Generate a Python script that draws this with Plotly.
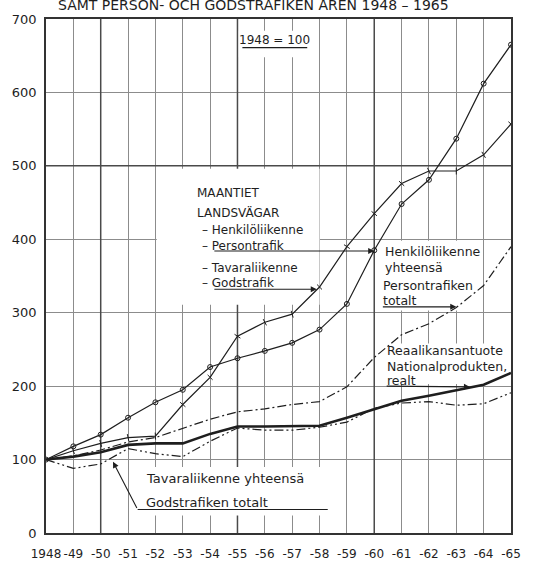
import plotly.graph_objects as go

# Index series, 1948 = 100
years = list(range(1948, 1966))
year_labels = ["1948"] + ["-%02d" % (y % 100) for y in years[1:]]

road_passenger = [100, 118, 134, 157, 178, 195, 226, 238, 248, 259, 277, 312, 385, 448, 481, 537, 612, 665]
road_goods = [100, 112, 122, 130, 132, 175, 212, 268, 287, 298, 335, 390, 435, 476, 493, 493, 515, 557]
passenger_total = [100, 105, 113, 124, 130, 142, 155, 165, 169, 175, 179, 199, 239, 270, 285, 307, 337, 390]
gnp_real = [100, 104, 110, 120, 122, 122, 135, 145, 145, 145, 146, 157, 169, 180, 187, 195, 202, 218]
goods_total = [100, 88, 94, 115, 108, 104, 125, 143, 140, 140, 144, 151, 170, 177, 179, 174, 176, 191]

y_ticks = [0, 100, 200, 300, 400, 500, 600, 700]

INK = "#1e1e1e"
GRID = "#8c8c8c"
FONT = "DejaVu Sans"

fig = go.Figure()

fig.add_trace(go.Scatter(
    x=years, y=road_passenger, mode="lines+markers",
    line=dict(color=INK, width=1.2),
    marker=dict(symbol="circle-open", size=5, color=INK, line=dict(width=1)),
))
fig.add_trace(go.Scatter(
    x=years, y=road_goods, mode="lines+markers",
    line=dict(color=INK, width=1.2),
    marker=dict(symbol="line-ew", size=5, color=INK, angleref="previous",
                line=dict(width=1, color=INK)),
))
fig.add_trace(go.Scatter(
    x=years, y=passenger_total, mode="lines",
    line=dict(color=INK, width=1.2, dash="9px,3px,2px,3px"),
))
fig.add_trace(go.Scatter(
    x=years, y=goods_total, mode="lines",
    line=dict(color=INK, width=1.2, dash="9px,3px,2px,3px,2px,3px"),
))
fig.add_trace(go.Scatter(
    x=years, y=gnp_real, mode="lines",
    line=dict(color=INK, width=2.6),
))

shapes = []
# heavier rulings every five years and at 500
for xv in (1950, 1955, 1960):
    shapes.append(dict(type="line", xref="x", yref="y", x0=xv, x1=xv, y0=0, y1=700,
                       line=dict(color="#4a4a4a", width=1.5), layer="between"))
shapes.append(dict(type="line", xref="x", yref="y", x0=1948, x1=1965, y0=500, y1=500,
                   line=dict(color="#4a4a4a", width=1.5), layer="between"))

# white panels behind the captions
for x0, x1, y0, y1 in [
    (1952.05, 1958.0, 311, 496),
    (1960.2, 1963.8, 303, 398),
    (1960.35, 1964.95, 203, 258),
    (1951.4, 1958.4, 24, 90),
    (1955.05, 1957.75, 648, 684),
]:
    shapes.append(dict(type="rect", xref="x", yref="y", x0=x0, x1=x1, y0=y0, y1=y1,
                       fillcolor="white", line=dict(width=0), layer="between"))

# underlines
shapes.append(dict(type="line", xref="x", yref="y", x0=1955.18, x1=1957.55, y0=661, y1=661,
                   line=dict(color=INK, width=1.1), layer="above"))
shapes.append(dict(type="line", xref="x", yref="y", x0=1951.35, x1=1958.3, y0=32, y1=32,
                   line=dict(color=INK, width=1.1), layer="above"))

annotations = []


def label(x, y, text, size=12, anchor="left"):
    annotations.append(dict(x=x, y=y, xref="x", yref="y", text=text, showarrow=False,
                            xanchor=anchor, yanchor="middle",
                            font=dict(family=FONT, size=size, color=INK)))


def arrow(x_tail, y_tail, x_tip, y_tip):
    annotations.append(dict(x=x_tip, y=y_tip, ax=x_tail, ay=y_tail, xref="x", yref="y",
                            axref="x", ayref="y", text="", showarrow=True,
                            arrowhead=2, arrowsize=1.1, arrowwidth=1.1, arrowcolor=INK,
                            standoff=0, startstandoff=0))


label(1956.35, 672, "1948 = 100", size=12, anchor="center")

label(1953.43, 463, "MAANTIET", size=12)
label(1953.43, 437, "LANDSVÄGAR", size=12)
label(1953.62, 413, "– Henkilöliikenne", size=12)
label(1953.62, 391, "– Persontrafik", size=12)
label(1953.62, 361, "– Tavaraliikenne", size=12)
label(1953.62, 341, "– Godstrafik", size=12)
arrow(1954.1, 384, 1960.0, 384)
arrow(1954.1, 332, 1957.9, 332)

label(1960.32, 384, "Henkilöliikenne", size=12.5)
label(1960.32, 362, "yhteensä", size=12.5)
label(1960.26, 337, "Persontrafiken", size=12.5)
label(1960.26, 316, "totalt", size=12.5)
arrow(1960.26, 308, 1963.0, 308)

label(1960.4, 249, "Reaalikansantuote", size=12.5)
label(1960.4, 227, "Nationalprodukten,", size=12.5)
label(1960.4, 208, "realt", size=12.5)
arrow(1960.4, 200, 1963.5, 199)

label(1951.6, 74, "Tavaraliikenne yhteensä", size=13)
label(1951.6, 41, "Godstrafiken totalt", size=13)
arrow(1951.35, 32, 1950.45, 97)

# heading along the upper edge
annotations.append(dict(x=1955.6, y=1, xref="x", yref="paper", yanchor="middle", xanchor="center",
                        yshift=14, showarrow=False,
                        text="SAMT PERSON- OCH GODSTRAFIKEN ÅREN 1948 – 1965",
                        font=dict(family=FONT, size=14, color=INK)))

fig.update_layout(
    width=533, height=573,
    margin=dict(l=41, r=19, t=14, b=30),
    paper_bgcolor="white", plot_bgcolor="white",
    showlegend=False,
    shapes=shapes, annotations=annotations,
    font=dict(family=FONT, color=INK),
)
fig.update_xaxes(
    range=[1948, 1965], tickvals=years, ticktext=year_labels, tickangle=0,
    showgrid=True, gridcolor=GRID, gridwidth=1,
    showline=True, linecolor="#333", linewidth=1.5, mirror=True,
    ticks="", ticklabelstandoff=9, zeroline=False,
    tickfont=dict(family=FONT, size=12, color=INK),
)
fig.update_yaxes(
    range=[0, 700], tickvals=y_ticks,
    showgrid=True, gridcolor=GRID, gridwidth=1,
    showline=True, linecolor="#333", linewidth=1.5, mirror=True,
    ticks="", ticklabelstandoff=5, zeroline=False,
    tickfont=dict(family=FONT, size=13, color=INK),
)

fig.write_html("out.html")
